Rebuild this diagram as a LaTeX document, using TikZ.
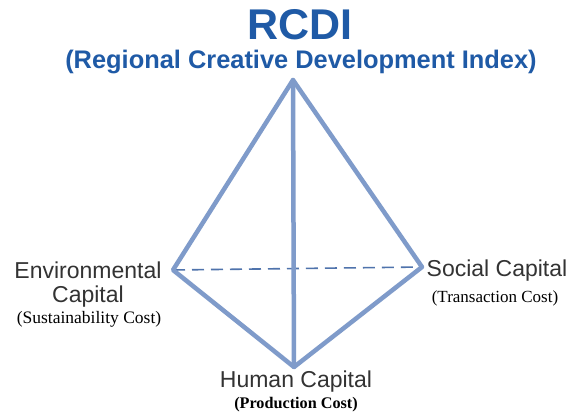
\documentclass[tikz,border=0pt]{standalone}
\usepackage{fontspec}
\setmainfont{Liberation Serif}
\setsansfont{Liberation Sans}
\definecolor{edgeblue}{HTML}{7F9BCA}
\definecolor{dashblue}{HTML}{4F73AC}
\definecolor{titleblue}{HTML}{1F5AA6}
\definecolor{labelgray}{HTML}{333333}
\begin{document}
\begin{tikzpicture}[x=1pt,y=-1pt,
  edge/.style={draw=edgeblue,line width=4.5pt,line cap=round,line join=round},
  hidden/.style={draw=dashblue,line width=1.6pt,dash pattern=on 12pt off 7pt},
  sanslabel/.style={font=\sffamily\fontsize{23}{26}\selectfont,text=labelgray,inner sep=0pt,anchor=base},
  seriflabel/.style={font=\rmfamily\fontsize{17.5}{20}\selectfont,text=black,inner sep=0pt,anchor=base}]
\useasboundingbox (0,0) rectangle (570,412);
\fill[white] (0,0) rectangle (570,412);
\coordinate (top) at (293,80);
\coordinate (left) at (173,270);
\coordinate (right) at (422,267);
\coordinate (bottom) at (294,367);
\draw[hidden] (left) -- (right);
\draw[edge] (top) -- (left) -- (bottom) -- (right) -- cycle;
\draw[edge] (top) -- (bottom);
\node[inner sep=0pt,anchor=base,text=titleblue,font=\sffamily\bfseries\fontsize{43}{46}\selectfont] (title) at (300,40) {RCDI};
\node[inner sep=0pt,anchor=base,text=titleblue,font=\sffamily\bfseries\fontsize{25.4}{28}\selectfont] (subtitle) at (301,69) {(Regional Creative Development Index)};
\node[sanslabel] (env1) at (88,278) {Environmental};
\node[sanslabel] (env2) at (88,302) {Capital};
\node[seriflabel] (env3) at (89,323) {(Sustainability Cost)};
\node[sanslabel] (soc1) at (497,276) {Social Capital};
\node[seriflabel,font=\rmfamily\fontsize{17}{20}\selectfont] (soc2) at (495,302) {(Transaction Cost)};
\node[sanslabel] (hum1) at (296,387) {Human Capital};
\node[seriflabel,font=\rmfamily\bfseries\fontsize{16.2}{19}\selectfont] (hum2) at (296,408) {(Production Cost)};
\end{tikzpicture}
\end{document}
